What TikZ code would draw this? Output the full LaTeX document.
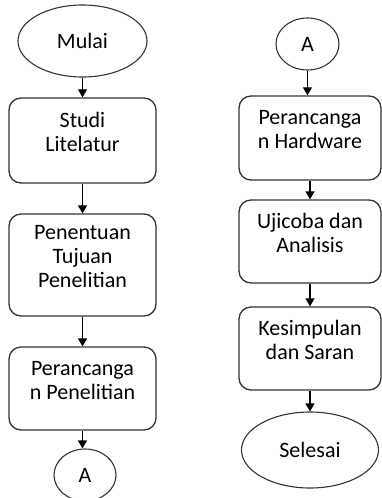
\documentclass[tikz,border=0pt]{standalone}
\usepackage{fontspec}
\setmainfont{Carlito}
\usetikzlibrary{shapes.geometric,arrows.meta}

\tikzset{
  proses/.style={draw=black!80, line width=1.3pt, rounded corners=12pt,
    minimum width=147pt, minimum height=83pt, inner sep=0pt},
  terminal/.style={draw=black!80, line width=1.1pt, ellipse, inner sep=0pt},
  alur/.style={line width=1.2pt, -{Triangle[width=9pt,length=8pt]}}
}
% teks kotak sedikit di atas tengah
\newcommand{\isi}[1]{\raisebox{6pt}[\height][\depth]{\begin{tabular}{@{}c@{}}#1\end{tabular}}}

\begin{document}
\begin{tikzpicture}[x=1pt,y=-1pt,font=\fontsize{22}{24}\selectfont]
\useasboundingbox (0,0) rectangle (382,498);

% Kolom kiri
\node[terminal, minimum width=129pt, minimum height=72pt] (mulai) at (82.5,41) {Mulai};
\node[proses, minimum height=85pt] (studi) at (82.5,140.5) {\isi{Studi\\Litelatur}};
\node[proses, minimum height=102pt] (tujuan) at (82.5,265) {\isi{Penentuan\\Tujuan\\Penelitian}};
\node[proses] (rancang) at (82.5,388.5) {\isi{Perancanga\\n Penelitian}};
\node[terminal, minimum width=62pt, minimum height=52pt] (akiri) at (85,475) {A};

% Kolom kanan
\node[terminal, minimum width=63pt, minimum height=52pt] (akanan) at (307.5,44) {A};
\node[proses, minimum width=142pt, minimum height=84pt] (hardware) at (310,138) {\isi{Perancanga\\n Hardware}};
\node[proses, minimum width=142pt] (uji) at (310,241.5) {\isi{Ujicoba dan\\Analisis}};
\node[proses, minimum width=142pt] (simpul) at (310,348.5) {\isi{Kesimpulan\\dan Saran}};
\node[terminal, minimum width=137pt, minimum height=76pt] (selesai) at (310,450) {Selesai};

% Panah alur
\foreach \a/\b in {mulai/studi, studi/tujuan, tujuan/rancang, rancang/akiri,
                   akanan/hardware, hardware/uji, uji/simpul, simpul/selesai} {
    \draw[alur] (\a.south) -- (\a.south |- \b.north);
}

\end{tikzpicture}
\end{document}
